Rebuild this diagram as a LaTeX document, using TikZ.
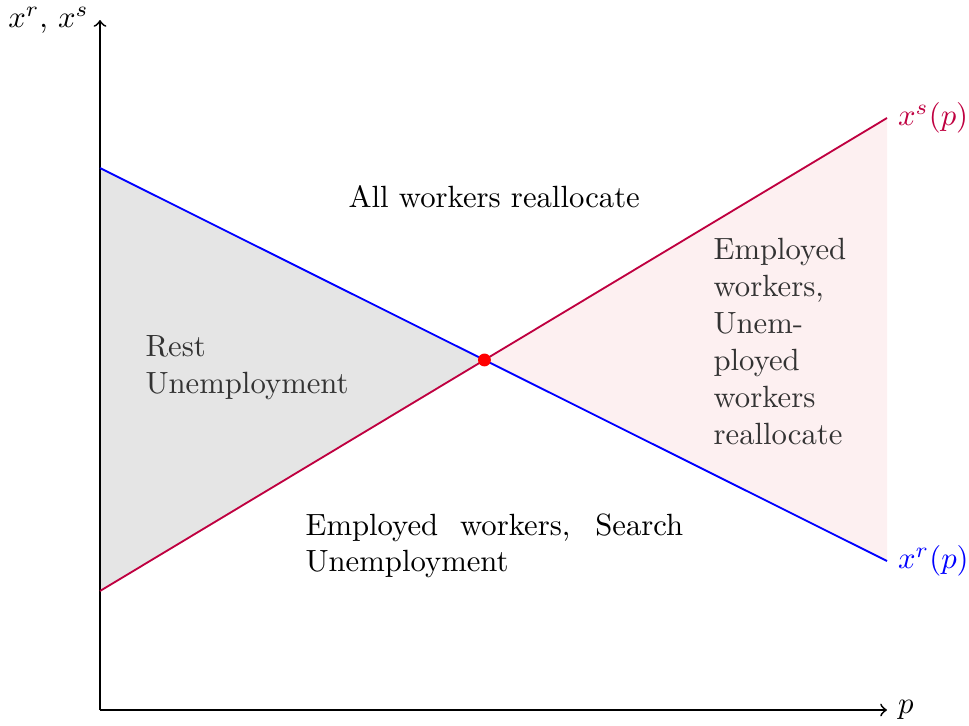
\documentclass[tikz,border=0pt]{standalone}
\definecolor{pinkshade}{RGB}{253,240,241}
\begin{document}
\begin{tikzpicture}[x=0.3257pt,y=-0.3257pt,
  axis/.style={semithick,->},
  curve/.style={semithick},
  region/.style={text=black!80, inner sep=0pt, anchor=base west, align=left},
  caption/.style={inner sep=0pt, anchor=base west}]
\useasboundingbox (0,0) rectangle (969,725);
% axes and the two schedules
\coordinate (O) at (100,710);
\coordinate (Ytop) at (100,20);
\coordinate (Xend) at (887,710);
\coordinate (R1) at (100,168);
\coordinate (R2) at (887,561);
\coordinate (S1) at (100,591);
\coordinate (S2) at (887,118);
\coordinate (E) at (intersection of R1--R2 and S1--S2);
% shaded regions
\fill[gray!20] (R1) -- (E) -- (S1) -- cycle;
\fill[pinkshade] (E) -- (S2) -- (R2) -- cycle;
% axes
\draw[axis] (O) -- (Ytop) node[left] (ylab) {$x^r$, $x^s$};
\draw[axis] (O) -- (Xend) node[right] (xlab) {$p$};
% schedules
\draw[curve, blue] (R1) -- (R2) node[right] (rlab) {$x^r(p)$};
\draw[curve, purple] (S1) -- (S2) node[right] (slab) {$x^s(p)$};
\fill[red] (E) circle[radius=2.1pt];
% region labels (align=left nodes sit on their last baseline)
\node[caption] (all) at (348,207) {All workers reallocate};
\node[region] (rest) at (145,393) {Rest\\Unemployment};
\node[caption, text width=123pt, align=justify] (search) at (305,535) {Employed workers, Search\linebreak \mbox{Unemployment}};
\node[region] (both) at (713,444) {Employed\\workers,\\Unem-\\ployed\\workers\\reallocate};
\end{tikzpicture}
\end{document}
